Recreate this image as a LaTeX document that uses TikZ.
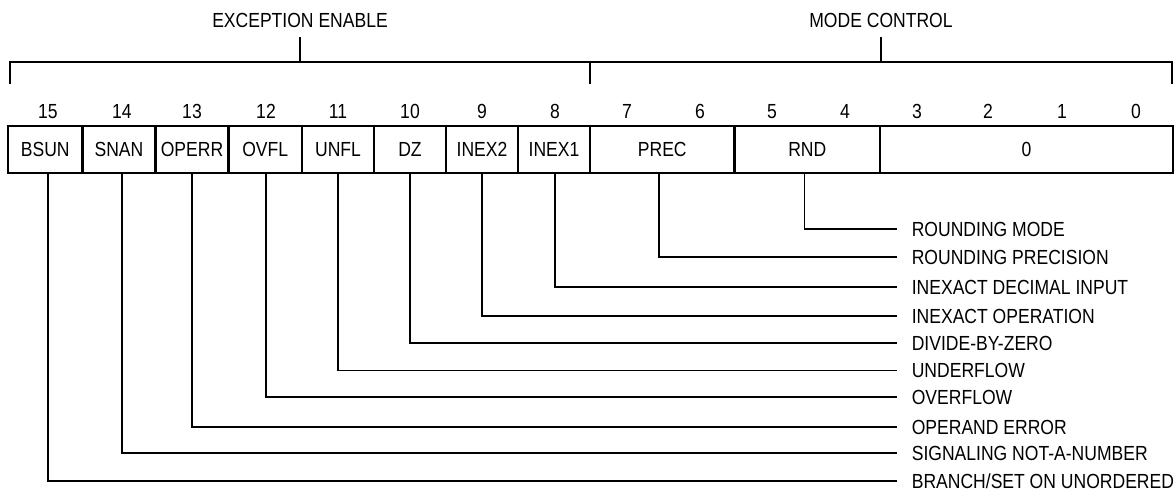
\documentclass[tikz,border=0pt]{standalone}
\usepackage{fontspec}
\setmainfont{Liberation Sans}[FakeStretch=0.86]
\begin{document}
\begin{tikzpicture}[x=0.5pt,y=-0.5pt,
  every node/.style={font=\fontsize{10.2}{12}\selectfont, inner sep=0pt, outer sep=0pt, text height=7.3pt, text depth=0pt},
  field/.style={draw, line width=1.25pt, minimum height=23.5pt},
  bitnum/.style={},
  title/.style={},
  lbl/.style={anchor=west, inner xsep=7.4pt},
  leader/.style={line width=0.6pt},
  brace/.style={line width=0.8pt}]
\useasboundingbox (0,0) rectangle (1176,496);
% titles
\node[title] (exc) at (300,20) {EXCEPTION ENABLE};
\node[title] (mode) at (881,20) {MODE CONTROL};
% bracket
\draw[brace] (10,84) -- (10,62) -- (1172,62) -- (1172,84);
\draw[brace] (590,62) -- (590,84);
\draw[brace] (300,37) -- (300,62);
\draw[brace] (881,37) -- (881,62);
% bit numbers
\node[bitnum] (n15) at (48,111) {15};
\node[bitnum] (n14) at (122,111) {14};
\node[bitnum] (n13) at (192,111) {13};
\node[bitnum] (n12) at (266,111) {12};
\node[bitnum] (n11) at (338,111) {11};
\node[bitnum] (n10) at (410,111) {10};
\node[bitnum] (n9) at (482,111) {9};
\node[bitnum] (n8) at (555,111) {8};
\node[bitnum] (n7) at (627,111) {7};
\node[bitnum] (n6) at (700,111) {6};
\node[bitnum] (n5) at (772,111) {5};
\node[bitnum] (n4) at (845,111) {4};
\node[bitnum] (n3) at (917,111) {3};
\node[bitnum] (n2) at (988,111) {2};
\node[bitnum] (n1) at (1062,111) {1};
\node[bitnum] (n0) at (1136,111) {0};
% fields
\node[field, minimum width=37.25pt] (bsun) at (45.25,149.5) {BSUN};
\node[field, minimum width=36.5pt] (snan) at (119,149.5) {SNAN};
\node[field, minimum width=36.5pt] (operr) at (192,149.5) {OPERR};
\node[field, minimum width=36.75pt] (ovfl) at (265.25,149.5) {OVFL};
\node[field, minimum width=36pt] (unfl) at (338,149.5) {UNFL};
\node[field, minimum width=36pt] (dz) at (410,149.5) {DZ};
\node[field, minimum width=36pt] (inex2) at (482,149.5) {INEX2};
\node[field, minimum width=36pt] (inex1) at (554,149.5) {INEX1};
\node[field, minimum width=72.25pt] (prec) at (662.25,149.5) {PREC};
\node[field, minimum width=72.75pt] (rnd) at (807.25,149.5) {RND};
\node[field, minimum width=146.5pt] (zero) at (1026.5,149.5) {0};
% labels
\node[lbl] (lrnd) at (897,229) {ROUNDING MODE};
\node[lbl] (lprec) at (897,257) {ROUNDING PRECISION};
\node[lbl] (linex1) at (897,287) {INEXACT DECIMAL INPUT};
\node[lbl] (linex2) at (897,316) {INEXACT OPERATION};
\node[lbl] (ldz) at (897,343) {DIVIDE-BY-ZERO};
\node[lbl] (lunfl) at (897,370.5) {UNDERFLOW};
\node[lbl] (lovfl) at (897,397) {OVERFLOW};
\node[lbl] (loperr) at (897,427) {OPERAND ERROR};
\node[lbl] (lsnan) at (897,453) {SIGNALING NOT-A-NUMBER};
\node[lbl] (lbsun) at (897,481) {BRANCH/SET ON UNORDERED};
% leaders
\draw[leader] ([xshift=-1.5pt]rnd.south) |- (lrnd.west);
\draw[leader] ([xshift=-1.6pt]prec.south) |- (lprec.west);
\draw[leader] (inex1.south -| n8) |- (linex1.west);
\draw[leader] (inex2.south -| n9) |- (linex2.west);
\draw[leader] (dz.south -| n10) |- (ldz.west);
\draw[leader] (unfl.south -| n11) |- (lunfl.west);
\draw[leader] (ovfl.south -| n12) |- (lovfl.west);
\draw[leader] (operr.south -| n13) |- (loperr.west);
\draw[leader] (snan.south -| n14) |- (lsnan.west);
\draw[leader] (bsun.south -| n15) |- (lbsun.west);
\end{tikzpicture}
\end{document}
